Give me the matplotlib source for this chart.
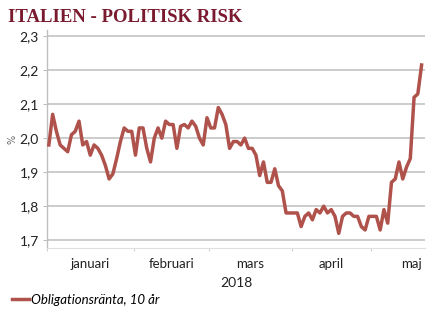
import matplotlib
matplotlib.use("Agg")
import matplotlib.pyplot as plt
from matplotlib.lines import Line2D
import numpy as np

# Data: daily Italian 10y yield, business days Jan 1 - May 18, 2018
values = [
    1.98, 2.07, 2.02, 1.98, 1.97, 1.96, 2.01, 2.02, 2.05, 1.98,
    1.99, 1.95, 1.98, 1.97, 1.95, 1.92, 1.88, 1.895, 1.94, 1.99,
    2.03, 2.02, 2.02, 1.95, 2.03, 2.03, 1.97, 1.93, 2.00, 2.03,
    2.00, 2.05, 2.04, 2.04, 1.97, 2.035, 2.04, 2.03, 2.05, 2.035,
    2.00, 1.98, 2.06, 2.03, 2.03, 2.09, 2.07, 2.04, 1.97, 1.99,
    1.99, 1.98, 2.00, 1.97, 1.97, 1.95, 1.89, 1.93, 1.87, 1.87,
    1.91, 1.86, 1.845, 1.78, 1.78, 1.78, 1.78, 1.74, 1.77, 1.78,
    1.76, 1.79, 1.78, 1.80, 1.78, 1.79, 1.77, 1.72, 1.77, 1.78,
    1.78, 1.77, 1.77, 1.74, 1.73, 1.77, 1.77, 1.77, 1.73, 1.79,
    1.75, 1.87, 1.88, 1.93, 1.88, 1.915, 1.94, 2.12, 2.13, 2.215,
]
month_names = ["januari", "februari", "mars", "april", "maj"]
month_days = [23, 20, 22, 21, 14]  # business days per month in the series
year_label = "2018"
series_label = "Obligationsränta, 10 år"
title = "ITALIEN - POLITISK RISK"
yticks = [1.7, 1.8, 1.9, 2.0, 2.1, 2.2, 2.3]

fig = plt.figure(figsize=(4.45, 3.27), dpi=100)
ax = fig.add_axes([0.1056, 0.2416, 0.955 - 0.1056, 0.9083 - 0.2416])

x = np.arange(len(values))
line_color = "#B0524C"
ax.plot(x, values, color=line_color, lw=2.5, solid_joinstyle="round", zorder=3)

ax.set_xlim(-0.5, 99.9)
ax.set_ylim(1.677, 2.318)

# grid
ax.set_yticks(yticks)
ax.set_yticklabels([f"{v:.1f}".replace(".", ",") for v in yticks],
                   fontsize=10, family="Lato", color="#222222")
ax.yaxis.grid(True, color="#BFBFBF", lw=1.1)
ax.set_axisbelow(True)

# month boundaries
bounds = np.concatenate([[0], np.cumsum(month_days)]) - 0.5
ax.set_xticks(bounds[:-1])
ax.set_xticklabels([])
centers = [(bounds[i] + bounds[i + 1]) / 2 for i in range(len(month_names))]
centers[-1] = 96.3
ax.set_xticks(centers, minor=True)
ax.set_xticklabels(month_names, minor=True, fontsize=9.5, family="Lato", color="#222222")
ax.tick_params(axis="x", which="minor", length=0, pad=7)
ax.tick_params(axis="x", which="major", length=2.5, color="#D0D0D0", width=0.8)
ax.tick_params(axis="y", length=3, color="#BFBFBF", width=0.8, pad=3)

for s in ["top", "right"]:
    ax.spines[s].set_visible(False)
ax.spines["left"].set_color("#BFBFBF")
ax.spines["bottom"].set_color("#E0E0E0")
ax.spines["left"].set_linewidth(1.0)
ax.spines["bottom"].set_linewidth(0.8)

ax.set_ylabel("%", fontsize=7, color="#666666", labelpad=1)
ax.set_xlabel(year_label, fontsize=10, family="Lato", color="#222222", labelpad=5)

fig.text(0.018, 0.948, title, fontsize=13.5, fontweight="bold",
         family="Liberation Serif", color="#7A1A2E", va="center", ha="left")

handle = Line2D([0], [0], color=line_color, lw=2.5)
fig.legend([handle], [series_label], loc="center left", bbox_to_anchor=(0.0, 0.083),
           frameon=False, handlelength=1.3, handletextpad=0.15,
           prop={"family": "Lato", "style": "italic", "size": 9.5})

fig.savefig("out.png", dpi=100)
